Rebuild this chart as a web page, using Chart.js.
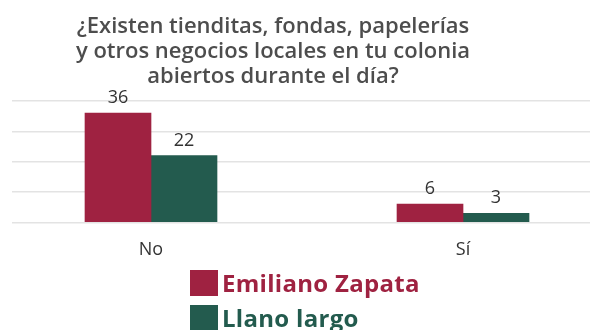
<!DOCTYPE html>
<html>
<head>
<meta charset="utf-8">
<script src="https://cdn.jsdelivr.net/npm/chart.js@4.4.0/dist/chart.umd.min.js"></script>
<style>
html, body { margin: 0; padding: 0; background: #fff; }
#caja { position: relative; width: 590px; height: 330px; overflow: hidden; }
canvas { position: absolute; left: 0; top: 0; }
#titulo { position: absolute; left: 0; top: 12px; width: 546px; text-align: center;
  font: 600 22px 'Open Sans', sans-serif; line-height: 25px; color: #4d4d4d; }
#leyenda { position: absolute; left: 190px; top: 265px; font: 700 24px 'Open Sans', sans-serif; letter-spacing: 0.3px; }
.voce { display: flex; align-items: center; height: 35px; white-space: nowrap; }
.cuadro { width: 28px; height: 26px; margin-right: 4px; }
</style>
</head>
<body>
<div id="caja">
  <canvas id="grafico" width="590" height="330"></canvas>
  <div id="titulo"></div>
  <div id="leyenda"></div>
</div>
<script>
var tituloLineas = ['¿Existen tienditas, fondas, papelerías', 'y otros negocios locales en tu colonia', 'abiertos durante el día?'];
var categorias = ['No', 'Sí'];
var emilianoZapata = [36, 6];
var llanoLargo = [22, 3];
var nombresSeries = ['Emiliano Zapata', 'Llano largo'];
var coloresSeries = ['#9F2241', '#235B4E'];

document.getElementById('titulo').innerHTML = tituloLineas.join('<br>');

function puntos (valores) {
    var lista = [];
    for (var i = 0; i < valores.length; i++) {
        lista.push({x: i, y: valores[i]});
    }
    return lista;
}

// numeros encima de cada barra
var etiquetasValores = {
    id: 'etiquetasValores',
    afterDatasetsDraw: function(chart){
        var ctx = chart.ctx;
        ctx.save();
        ctx.font = '18px "Open Sans"';
        ctx.fillStyle = '#333333';
        ctx.textAlign = 'center';
        ctx.textBaseline = 'alphabetic';
        chart.data.datasets.forEach(function(ds, i){
            chart.getDatasetMeta(i).data.forEach(function(barra, j){
                ctx.fillText(ds.data[j].y, barra.x, barra.y - 10);
            });
        });
        ctx.restore();
    }
};

var ctx = document.getElementById('grafico');
var grafico = new Chart(ctx, {
    type: 'bar',
    data: {
        datasets: [{
            label: nombresSeries[0],
            backgroundColor: coloresSeries[0],
            data: puntos(emilianoZapata)
        }, {
            label: nombresSeries[1],
            backgroundColor: coloresSeries[1],
            data: puntos(llanoLargo)
        }]
    },
    options: {
        responsive: false,
        animation: false,
        barThickness: 66,
        layout: { padding: { left: 12, right: 0, top: 101, bottom: 52 } },
        plugins: {
            legend: { display: false },
            tooltip: { enabled: false }
        },
        scales: {
            x: {
                type: 'linear',
                offset: false,
                min: -0.4455,
                max: 1.407,
                grid: { display: false, drawTicks: false },
                border: { display: false },
                afterBuildTicks: function(eje){
                    eje.ticks = categorias.map(function(c, i){ return {value: i}; });
                },
                ticks: {
                    callback: function(v){ return categorias[v]; },
                    font: { family: 'Open Sans', size: 18 },
                    color: '#333333',
                    padding: 17,
                    maxRotation: 0
                }
            },
            y: {
                min: 0,
                max: 40,
                ticks: { display: false, stepSize: 10 },
                grid: { color: '#e3e3e3', lineWidth: 1.5, drawTicks: false },
                border: { display: false }
            }
        }
    },
    plugins: [etiquetasValores]
});

var leyenda = document.getElementById('leyenda');
grafico.data.datasets.forEach(function(ds){
    var voce = document.createElement('div');
    voce.className = 'voce';
    var cuadro = document.createElement('div');
    cuadro.className = 'cuadro';
    cuadro.style.background = ds.backgroundColor;
    var texto = document.createElement('span');
    texto.textContent = ds.label;
    texto.style.color = ds.backgroundColor;
    voce.appendChild(cuadro);
    voce.appendChild(texto);
    leyenda.appendChild(voce);
});
</script>
</body>
</html>
